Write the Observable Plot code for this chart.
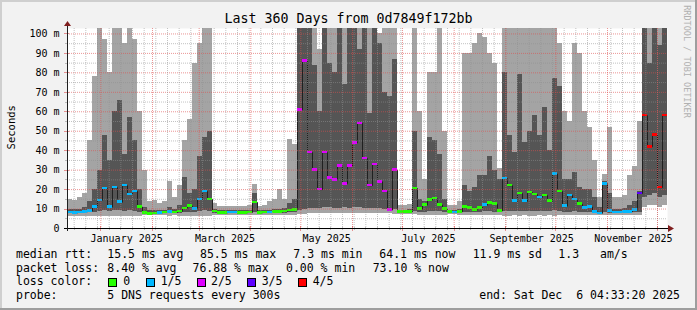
<!DOCTYPE html>
<html><head><meta charset="utf-8">
<script src="https://cdn.jsdelivr.net/npm/d3@7"></script>
<script src="https://cdn.jsdelivr.net/npm/@observablehq/plot@0.6"></script>
<style>
body{margin:0;background:#fff}
#wrap{position:relative;width:697px;height:310px;background:#f2f2f2;overflow:hidden;font-family:"DejaVu Sans Mono",monospace;color:#000}
#wrap svg{position:absolute;left:0;top:0}
.t{position:absolute;white-space:pre;line-height:1}
.sw{position:absolute;width:7px;height:7px;border:1px solid #000}
#bt{position:absolute;left:0;top:0;width:697px;height:2px;background:#cfcfcf}
#bl{position:absolute;left:0;top:0;width:2px;height:310px;background:#cfcfcf}
#bb{position:absolute;left:0;bottom:0;width:697px;height:2px;background:#9e9e9e}
#br{position:absolute;right:0;top:0;width:2px;height:310px;background:#9e9e9e}
</style></head><body><div id="wrap"></div>
<script>
// ---- data: 3-day bins from 2024-12-12 to 2025-12-07 (values in ms) ----
const ping1 = [6.3,6.2,6.4,6.3,6.2,6.0,6.0,6.1,6.0,6.0, 6.2,6.1,6.0,6.2,6.3,6.5,6.6,6.5,6.6,6.5, 6.4,6.5,6.4,6.3,6.2,6.2,6.1,6.0,6.1,6.6, 6.8,6.8,6.8,6.8,6.8,6.8,6.8,6.9,6.8,6.8, 6.7,6.7,6.6,6.6,6.6,6.5,7.0,7.3,7.5,7.5, 7.6,7.5,7.7,7.6,7.5,7.7,7.6,7.8,7.7,7.6, 7.7,7.8,7.6,7.5,7.5,7.4,7.0,7.0,7.0,7.0, 6.9,6.8,6.8,6.8,6.7,6.8,7.0,7.0,6.9,6.7, 6.6,6.6,6.5,6.5,6.5,6.5,6.6,6.4,6.4,6.5, 6.4,6.5,6.4,6.4,6.5,6.4,6.5,6.4,6.5,6.6, 6.6,6.5,6.6,6.6,6.6,6.7,6.8,6.8,6.6,6.8, 6.8,6.8,6.8,6.7,6.6,11,12,12,11,12];
const ping2 = [7.8,7.7,7.8,7.9,8.0,8.2,8.5,9.0,8.5,9.0, 9.0,8.8,9.0,8.5,8.0,7.5,7.3,7.5,7.5,7.6, 7.8,7.6,7.8,8.0,8.2,8.3,8.5,9.0,8.6,7.6, 7.5,7.5,7.6,7.6,7.5,7.5,7.6,8.0,7.5,7.6, 7.6,7.7,7.8,7.9,8.0,8.2,9.5,10,10.5,10.5, 10.3,10.8,11,10.5,10.2,10.8,10.5,11,10.6,10.5, 10.2,10.5,10.3,10,9.5,10,7.9,7.9,8.0,8.5, 8.2,8.4,8.6,8.6,8.5,8.3,7.8,7.8,7.9,8.3, 8.2,8.1,8.3,8.5,8.5,8.4,8.0,8.8,8.8,8.5, 8.7,8.5,8.8,8.8,8.6,8.8,8.5,9.0,8.7,8.4, 8.2,8.5,8.3,8.2,8.2,7.8,7.5,8.0,7.8,7.5, 7.5,7.6,7.8,8.0,8.3,16,17,18,16,17];
const median = [8.3,8.0,8.3,8.6,9.0,11,14.5,20.5,11,21, 13.5,22,17.5,19,11,8.0,7.5,7.8,8.0,8.2, 8.5,8.3,8.8,10.3,11.5,10,15,19,15,8.7, 8.0,8.0,8.2,8.2,8.0,8.0,8.2,13.4,8.0,8.2, 8.2,8.4,8.5,8.8,9.2,9.5,61,86,39,30, 20,39,26,25,32,23,32,44,54,36, 22,33,24,19,9.5,30,8.6,8.6,8.6,20.6, 10,12,14.6,15.4,12,10,8.4,8.2,8.6,11, 10.5,9.5,10.5,12,13,12.5,9,25.7,22,14, 18,14,18.5,17.5,16,17,14,28,19,11.5, 17,15,12.5,10.5,11,8.5,7.8,23,9,8.3, 8.3,8.4,8.6,9.5,18,58,42,48,21,58];
const ping4 = [9.8,9.6,10,11,14,20,30,48,35,60, 66,38,57,45,20,11,9,9,9.3,9.5, 11,10,12,26,18,20,37,47,50,10, 9,9,9.2,9.2,9,9,9.2,18,9,9.2, 9.5,9.8,10,10.5,13,15,110,110,110,84, 60,110,85,80,110,74,110,110,92,110, 59,110,95,70,68,87,9.5,9.5,9.6,50, 15,14,47,45,38,15,9.5,9.5,10,22, 19,21,27,27,37,30,25,80,48,39, 79,44,50,58,48,62,40,77,73,25, 25,29,21,20,20,16,11,24,18,10, 10,10.5,12,14,19,110,85,110,94,110];
const ping5 = [15,14.5,16,18,45,78,110,97,80,110, 110,95,110,97,60,30,14,14.5,13,14, 24,16,22,45,56,85,95,110,110,13, 11.5,11.5,11.5,11.5,11.5,11.5,12,22.6,11.5,12, 14,15,20,15,46,43,110,110,110,110, 92,110,110,110,110,110,110,110,110,110, 110,110,100,110,110,110,12,12,12.5,110, 60,25,80,80,110,50,12,12,14,90, 90,95,100,98,90,85,31,110,110,110, 110,110,110,110,110,110,110,110,95,60, 55,95,90,60,52,35,16,28,52,16, 16,17,27,32,55,110,110,110,110,110];
const lossLevel = [1,1,1,1,1,1,1,1,1,1, 1,1,1,1,0,0,0,0,1,0, 1,0,0,0,0,1,1,1,0,0, 0,0,1,1,0,0,0,0,0,0, 1,0,0,0,0,0,2,2,2,2, 2,2,2,2,2,2,2,2,2,2, 2,2,2,2,2,2,0,0,0,0, 0,0,0,0,0,0,0,1,0,0, 0,0,0,1,0,0,0,1,0,1, 0,1,0,0,1,0,0,1,0,1, 1,1,0,1,1,1,1,1,1,1, 1,1,1,1,3,4,4,4,4,4];
const lossLabels = ["0", "1/5", "2/5", "3/5", "4/5"];
const lossColors = ["#26ff00", "#00b8ff", "#dd00ff", "#5e00ff", "#ff0000"];
const yTicks = [0,10,20,30,40,50,60,70,80,90,100];
const monthLabels = ["January 2025","March 2025","May 2025","July 2025","September 2025","November 2025"];
const titleText = "Last 360 Days from 0d7849f172bb";
const statLine1 = ["median rtt:","15.5 ms avg","85.5 ms max","7.3 ms min","64.1 ms now","11.9 ms sd","1.3","am/s"];
const statLine2 = ["packet loss:","8.40 % avg","76.88 % max","0.00 % min","73.10 % now"];
const probeLine = ["probe:","5 DNS requests every 300s","end: Sat Dec  6 04:33:20 2025"];

// ---- build ----
const DAY = 864e5;
const start = Date.UTC(2024, 11, 12);
const end = start + 360 * DAY;
const rows = ping1.map((v, i) => ({
  x1: new Date(start + 3 * i * DAY), x2: new Date(start + 3 * (i + 1) * DAY),
  lo: v, p2: ping2[i], med: median[i], p4: ping4[i], hi: ping5[i], loss: lossLevel[i]
}));
const medLine = rows.map(r => ({x: r.x1, y: r.med})).concat([{x: new Date(end), y: median[median.length - 1]}]);
const months = d3.utcMonth.range(new Date(start), new Date(end));
const weeks = d3.utcMonday.range(new Date(start), new Date(end));
const labelDates = [0, 2, 4, 6, 8, 10].map(m => new Date(Date.UTC(2025, m, 16, 12)));
const minorY = d3.range(5, 100, 10);
const majorY = d3.range(10, 101, 10);
const GRID = "rgba(143,143,143,0.55)";
const MGRID = "rgba(222,79,79,0.6)";

function decor(index, scales, values, dim) {
  const {width, height, marginLeft, marginRight, marginTop, marginBottom} = dim;
  const x0 = marginLeft, y0 = height - marginBottom, xr = width - marginRight, yt = marginTop;
  const g = d3.create("svg:g");
  for (const d of weeks) { const x = Math.round(scales.x(d)) + 0.5; g.append("line").attr("x1", x).attr("x2", x).attr("y1", y0 - 1).attr("y2", y0 + 2).attr("stroke", GRID); }
  for (const d of months) { const x = Math.round(scales.x(d)) + 0.5; g.append("line").attr("x1", x).attr("x2", x).attr("y1", y0 - 2).attr("y2", y0 + 3).attr("stroke", MGRID); }
  for (const v of minorY) { const y = Math.round(scales.y(v)) + 0.5; g.append("line").attr("x1", x0 - 2).attr("x2", x0 + 1).attr("y1", y).attr("y2", y).attr("stroke", GRID); }
  for (const v of majorY) { const y = Math.round(scales.y(v)) + 0.5; g.append("line").attr("x1", x0 - 3).attr("x2", x0 + 2).attr("y1", y).attr("y2", y).attr("stroke", MGRID); }
  g.append("line").attr("x1", x0 - 3).attr("x2", xr + 2).attr("y1", y0 + 0.5).attr("y2", y0 + 0.5).attr("stroke", "#000");
  g.append("line").attr("x1", x0 + 0.5).attr("x2", x0 + 0.5).attr("y1", y0 + 3).attr("y2", yt - 2).attr("stroke", "#1f1f1f");
  g.append("path").attr("d", `M${xr + 1},${y0 - 3}L${xr + 7},${y0 + 0.5}L${xr + 1},${y0 + 4}Z`).attr("fill", "#801f1f");
  g.append("path").attr("d", `M${x0 - 3},${yt - 2}L${x0 + 0.5},${yt - 7}L${x0 + 4},${yt - 2}Z`).attr("fill", "#801f1f");
  return g.node();
}

const chart = Plot.plot({
  width: 697, height: 310,
  marginLeft: 67, marginRight: 30, marginTop: 28, marginBottom: 82,
  x: {type: "utc", domain: [new Date(start), new Date(end)]},
  y: {domain: [0, 102.8]},
  color: {type: "identity"},
  style: {background: "transparent", fontFamily: "DejaVu Sans Mono", fontSize: "10px", color: "#000", overflow: "visible"},
  marks: [
    Plot.frame({fill: "white", stroke: "none"}),
    Plot.rect(rows, {x1: "x1", x2: "x2", y1: "lo", y2: "hi", fill: "#a4a4a4", clip: true, shapeRendering: "crispEdges"}),
    Plot.rect(rows, {x1: "x1", x2: "x2", y1: "p2", y2: "p4", fill: "#555555", clip: true, shapeRendering: "crispEdges"}),
    Plot.line(medLine, {x: "x", y: "y", curve: "step-after", stroke: "#202020", strokeWidth: 1, clip: true}),
    Plot.rect(rows, {x1: "x1", x2: "x2", y1: d => d.med - 0.65, y2: d => d.med + 0.65, fill: d => lossColors[d.loss], clip: true, shapeRendering: "crispEdges"}),
    Plot.ruleY(minorY, {stroke: GRID, strokeDasharray: "1,1"}),
    Plot.ruleY(majorY, {stroke: MGRID, strokeDasharray: "1,1"}),
    Plot.ruleX(weeks, {stroke: GRID, strokeDasharray: "1,1"}),
    Plot.ruleX(months, {stroke: MGRID, strokeDasharray: "1,1"}),
    Plot.axisY(yTicks, {tickSize: 0, tickPadding: 8, tickFormat: d => d === 0 ? "0" : `${d} m`, fontSize: 10, fill: "#000"}),
    Plot.axisX(labelDates, {tickSize: 0, tickPadding: 6, tickFormat: (d, i) => monthLabels[i], fontSize: 10, fill: "#000"}),
    decor
  ]
});

const wrap = document.getElementById("wrap");
wrap.appendChild(chart);

function txt(s, left, top, size, extra) {
  const el = document.createElement("div");
  el.className = "t"; el.textContent = s;
  el.style.left = left + "px"; el.style.top = top + "px"; el.style.fontSize = size + "px";
  if (extra) Object.assign(el.style, extra);
  wrap.appendChild(el); return el;
}
txt(titleText, 0, 12.2, 13.3, {width: "697px", textAlign: "center"});
txt("Seconds", -13, 122, 10.5, {width: "48px", textAlign: "center", transform: "rotate(-90deg)"});
txt("RRDTOOL / TOBI OETIKER", 632, 56, 8.5, {width: "110px", textAlign: "left", color: "#b0b0b0", transform: "rotate(90deg)"});
const l1x = [16, 107.3, 200, 293.3, 379.3, 472.7, 558.3, 600];
statLine1.forEach((s, i) => txt(s, l1x[i], 248.8, 11.5));
const l2x = [16, 107.3, 192.5, 286, 372.7];
statLine2.forEach((s, i) => txt(s, l2x[i], 262.5, 11.5));
txt("loss color:", 16, 276.2, 11.5);
const swx = [108.3, 145.7, 196.7, 247.3, 298.3];
const lbx = [123.3, 160.7, 211, 261.7, 312.7];
lossLabels.forEach((s, i) => {
  const b = document.createElement("div"); b.className = "sw";
  b.style.left = swx[i] + "px"; b.style.top = "278.3px"; b.style.background = lossColors[i];
  wrap.appendChild(b);
  txt(s, lbx[i], 276.2, 11.5);
});
txt(probeLine[0], 16, 289.9, 11.5);
txt(probeLine[1], 107.3, 289.9, 11.5);
txt(probeLine[2], 0, 289.9, 11.5, {width: "680px", textAlign: "right"});
["bt","bl","bb","br"].forEach(id => { const d = document.createElement("div"); d.id = id; wrap.appendChild(d); });
</script></body></html>
